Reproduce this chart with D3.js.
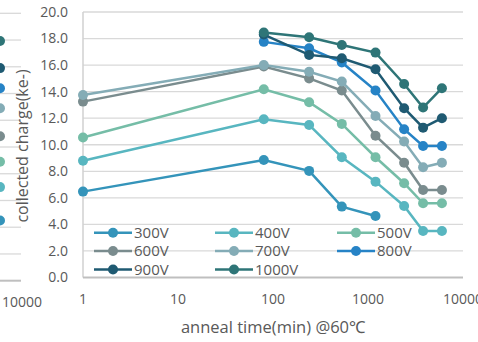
<!DOCTYPE html>
<html><head><meta charset="utf-8">
<script src="https://cdn.jsdelivr.net/npm/d3@7"></script>
<style>
body{margin:0;background:#fff;}
svg{display:block;}
text{font-family:"Open Sans","Liberation Sans",sans-serif;fill:#595959;}
</style></head>
<body><svg id="c" width="478" height="342"></svg>
<script>
const times = [1, 80, 240, 530, 1200, 2400, 3800, 6000];
const seriesNames = ["300V","400V","500V","600V","700V","800V","900V","1000V"];
const colors = ["#3494BA","#58B6C0","#75BDA7","#7A8C8E","#84ACB6","#2683C6","#1F5A72","#2E7577"];
const v300  = [6.47, 8.85, 8.03, 5.34, 4.63, null, null, null];
const v400  = [8.8, 11.92, 11.49, 9.06, 7.22, 5.39, 3.5, 3.5];
const v500  = [10.54, 14.18, 13.2, 11.57, 9.06, 7.1, 5.59, 5.59];
const v600  = [13.25, 15.9, 15.0, 14.08, 10.68, 8.65, 6.59, 6.59];
const v700  = [13.75, 16.0, 15.5, 14.76, 12.17, 10.24, 8.3, 8.65];
const v800  = [null, 17.75, 17.27, 16.2, 14.08, 11.17, 9.91, 9.91];
const v900  = [null, 18.3, 16.77, 16.52, 15.69, 12.75, 11.29, 12.0];
const v1000 = [null, 18.45, 18.1, 17.52, 16.94, 14.58, 12.8, 14.26];
const allValues = [v300,v400,v500,v600,v700,v800,v900,v1000];
const yTicks = [0,2,4,6,8,10,12,14,16,18,20];
const xTicks = [1,10,100,1000,10000];
// fragment of the neighbouring panel (its last points, cut by the left edge)
const prevPanelLast = [4.5, 7.0, 8.9, 10.8, 12.9, 14.4, 15.9, 17.93];

const svg = d3.select("#c");
const x = d3.scaleLog().domain([1,10000]).range([83,463]);
const y = d3.scaleLinear().domain([0,20]).range([277.5,12]);

// neighbouring panel fragment
const yPrev = d3.scaleLinear().domain([0,20]).range([280.7,13.3]);
const prev = svg.append("g");
prev.selectAll("line.g").data(yTicks.slice(1)).enter().append("line")
  .attr("x1",0).attr("x2",21).attr("y1",d=>yPrev(d)).attr("y2",d=>yPrev(d))
  .attr("stroke","#d9d9d9").attr("stroke-width",1.3);
prev.append("line").attr("x1",0).attr("x2",21).attr("y1",yPrev(0)).attr("y2",yPrev(0))
  .attr("stroke","#bfbfbf").attr("stroke-width",2);
prev.selectAll("circle").data(prevPanelLast).enter().append("circle")
  .attr("cx",0).attr("cy",d=>yPrev(d)).attr("r",5).attr("fill",(d,i)=>colors[i]);
prev.append("text").attr("x",22).attr("y",yPrev(0)+26).attr("text-anchor","middle")
  .attr("font-size",14).text("10000");

// gridlines
svg.append("g").selectAll("line").data(yTicks.slice(1)).enter().append("line")
  .attr("x1",83).attr("x2",463).attr("y1",d=>y(d)).attr("y2",d=>y(d))
  .attr("stroke","#d9d9d9").attr("stroke-width",1.3);
// axes lines
svg.append("line").attr("x1",83).attr("x2",83).attr("y1",y(20)).attr("y2",y(0))
  .attr("stroke","#d0d0d0").attr("stroke-width",1.5);
svg.append("line").attr("x1",83).attr("x2",463).attr("y1",y(0)).attr("y2",y(0))
  .attr("stroke","#bfbfbf").attr("stroke-width",2);

// y tick labels
svg.append("g").selectAll("text").data(yTicks).enter().append("text")
  .attr("x",68).attr("y",d=>y(d)).attr("dy","0.35em").attr("text-anchor","end")
  .attr("font-size",14).text(d=>d3.format(".1f")(d));
// x tick labels
svg.append("g").selectAll("text").data(xTicks).enter().append("text")
  .attr("x",d=>x(d)).attr("y",y(0)+26).attr("text-anchor","middle")
  .attr("font-size",14).text(d=>d);

// axis titles
svg.append("text").attr("transform","translate(28,146) rotate(-90)")
  .attr("text-anchor","middle").attr("font-size",16).text("collected charge(ke-)");
svg.append("text").attr("x",273).attr("y",333).attr("text-anchor","middle")
  .attr("font-size",16.5).text("anneal time(min) @60\u2103");

// series
const line = d3.line().defined(d=>d.v!=null).x(d=>x(d.t)).y(d=>y(d.v));
seriesNames.forEach((name,i)=>{
  const pts = times.map((t,j)=>({t:t, v:allValues[i][j]}));
  const g = svg.append("g");
  g.append("path").datum(pts).attr("d",line).attr("fill","none")
    .attr("stroke",colors[i]).attr("stroke-width",2.5);
  g.selectAll("circle").data(pts.filter(d=>d.v!=null)).enter().append("circle")
    .attr("cx",d=>x(d.t)).attr("cy",d=>y(d.v)).attr("r",5).attr("fill",colors[i]);
});

// legend
const legX = [113,234,356], legY = [232.7,251,269.5];
seriesNames.forEach((name,i)=>{
  const cx = legX[i%3], cy = legY[Math.floor(i/3)];
  const g = svg.append("g");
  g.append("line").attr("x1",cx-19).attr("x2",cx+19).attr("y1",cy).attr("y2",cy)
    .attr("stroke",colors[i]).attr("stroke-width",2.5);
  g.append("circle").attr("cx",cx).attr("cy",cy).attr("r",5).attr("fill",colors[i]);
  g.append("text").attr("x",cx+21).attr("y",cy).attr("dy","0.35em")
    .attr("font-size",15).text(name);
});
</script></body></html>
